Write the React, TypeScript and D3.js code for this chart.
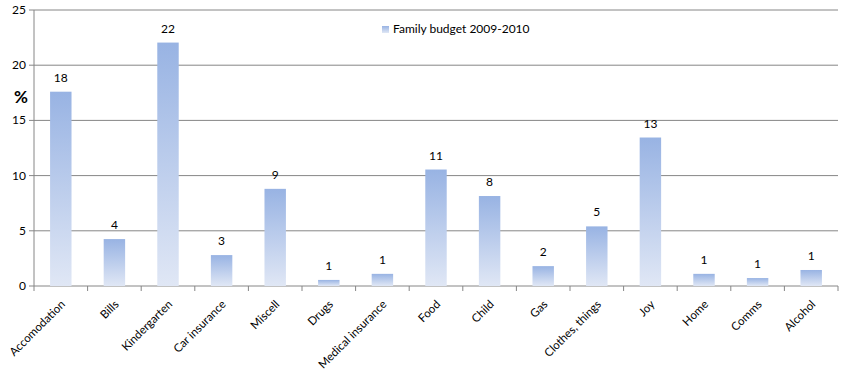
import React from "react";
import * as d3 from "d3";

const categories = [
  "Accomodation", "Bills", "Kindergarten", "Car insurance", "Miscell", "Drugs",
  "Medical insurance", "Food", "Child", "Gas", "Clothes, things", "Joy", "Home",
  "Comms", "Alcohol",
];
const values = [17.6, 4.25, 22.05, 2.8, 8.8, 0.55, 1.1, 10.55, 8.15, 1.8, 5.4, 13.45, 1.1, 0.72, 1.45];
const yTicks = [0, 5, 10, 15, 20, 25];
const seriesName = "Family budget 2009-2010";

const W = 841;
const H = 388;
const margin = { top: 10, right: 3, bottom: 102, left: 34 };
const font = "Lato, 'Open Sans', sans-serif";

export default function App() {
  const x = d3.scaleBand<string>()
    .domain(categories)
    .range([margin.left, W - margin.right])
    .paddingInner(0.6)
    .paddingOuter(0.3);
  const band = d3.scaleBand<string>()
    .domain(categories)
    .range([margin.left, W - margin.right]);
  const y = d3.scaleLinear().domain([0, 25]).range([H - margin.bottom, margin.top]);
  const y0 = y(0);

  return (
    <svg width={W} height={H} style={{ position: "absolute", left: 0, top: 0, fontFamily: font }}>
      <defs>
        <linearGradient id="barGrad" x1="0" y1="0" x2="0" y2="1">
          <stop offset="0%" stopColor="#98b3e3" />
          <stop offset="100%" stopColor="#e0e7f5" />
        </linearGradient>
      </defs>
      {/* gridlines */}
      {yTicks.map((t) => (
        <g key={t}>
          <line x1={margin.left - 5} x2={W - margin.right} y1={y(t)} y2={y(t)} stroke="#868686" strokeWidth={1} />
          <text x={margin.left - 8} y={y(t) + 4} textAnchor="end" fontSize={12} fill="#000">{t}</text>
        </g>
      ))}
      <line x1={margin.left} x2={margin.left} y1={margin.top} y2={y0} stroke="#868686" />
      {/* category ticks */}
      {categories.map((c) => (
        <line key={c} x1={band(c)!} x2={band(c)!} y1={y0} y2={y0 + 5} stroke="#868686" />
      ))}
      <line x1={W - margin.right} x2={W - margin.right} y1={y0} y2={y0 + 5} stroke="#868686" />
      {/* bars */}
      {categories.map((c, i) => (
        <g key={c}>
          <rect x={x(c)!} y={y(values[i])} width={x.bandwidth()} height={y0 - y(values[i])} fill="url(#barGrad)" />
          <text x={x(c)! + x.bandwidth() / 2} y={y(values[i]) - 10} textAnchor="middle" fontSize={12} fill="#000">
            {Math.round(values[i])}
          </text>
        </g>
      ))}
      {/* x labels */}
      {categories.map((c) => {
        const cx = band(c)! + band.bandwidth() / 2 + 5;
        return (
          <text key={c} transform={`translate(${cx},${y0 + 19}) rotate(-45)`} textAnchor="end" fontSize={11.5} fill="#000">
            {c}
          </text>
        );
      })}
      {/* axis title */}
      <text x={14} y={103} fontSize={17} fontWeight="bold" fill="#000">%</text>
      {/* legend */}
      <rect x={382} y={26} width={7} height={7} fill="url(#barGrad)" />
      <text x={393} y={33} fontSize={12} fill="#000">{seriesName}</text>
    </svg>
  );
}
